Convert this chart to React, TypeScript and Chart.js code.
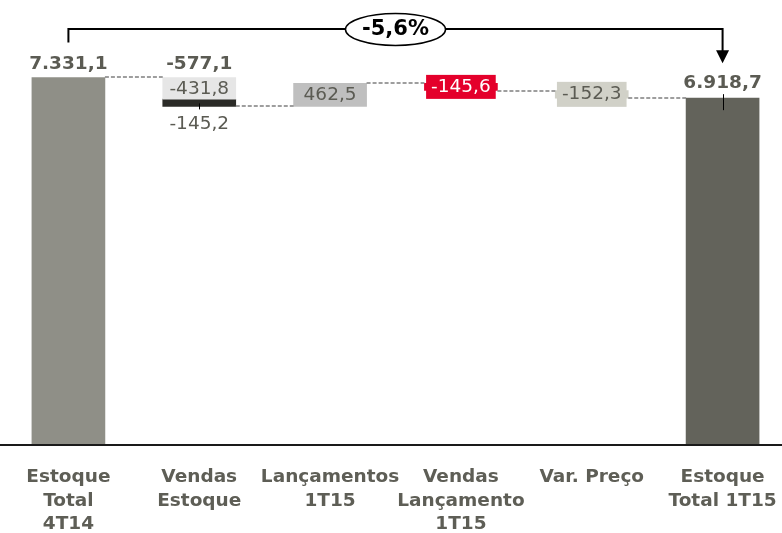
import React, { useEffect, useRef } from "react";
import { Chart, registerables } from "chart.js";

Chart.register(...registerables);

const categories: string[][] = [
  ["Estoque", "Total", "4T14"],
  ["Vendas", "Estoque"],
  ["Lançamentos", "1T15"],
  ["Vendas", "Lançamento", "1T15"],
  ["Var. Preço"],
  ["Estoque", "Total 1T15"],
];
const startValue = 7331.1;
const endValue = 6918.7;
const deltas = [-431.8, -145.2, 462.5, -145.6, -152.3];
const deltaLabels = ["-431,8", "-145,2", "462,5", "-145,6", "-152,3"];
const totalLabels = ["7.331,1", "-577,1", "6.918,7"];
const changeLabel = "-5,6%";

const barColors = ["#8f8f87", "#e6e6e6", "#bfbfbf", "#e4002b", "#d1d1c8", "#63635b"];
const darkColor = "#2b2b27";
const textGrey = "#5b5b53";
const FONT = "'DejaVu Sans', Verdana, sans-serif";

// cumulative levels
const levels: number[] = [startValue];
deltas.forEach((d) => levels.push(+(levels[levels.length - 1] + d).toFixed(1)));

const mainData: ([number, number] | null)[] = [
  [0, levels[0]],
  [levels[1], levels[0]],
  [levels[2], levels[3]],
  [levels[4], levels[3]],
  [levels[5], levels[4]],
  [0, endValue],
];
const darkData: ([number, number] | null)[] = [null, [levels[2], levels[1]], null, null, null, null];
const connectLevels = [levels[0], levels[2], levels[3], levels[4], levels[5]];

const annotPlugin = {
  id: "annot",
  afterDatasetsDraw(chart: any) {
    const ctx: CanvasRenderingContext2D = chart.ctx;
    const y = chart.scales.y;
    const area = chart.chartArea;
    const bars = chart.getDatasetMeta(0).data as any[];
    const dark = chart.getDatasetMeta(1).data as any[];
    const geo = bars.map((b) => {
      const p = b.getProps(["x", "y", "base", "width"], true);
      return {
        x: p.x,
        w: p.width,
        top: Math.min(p.y, p.base),
        bottom: Math.max(p.y, p.base),
      };
    });
    const dg = dark[1].getProps(["x", "y", "base", "width"], true);
    const darkBottom = Math.max(dg.y, dg.base);

    ctx.save();
    ctx.strokeStyle = "#1a1a1a";
    ctx.lineWidth = 2;
    ctx.beginPath();
    ctx.moveTo(0, area.bottom);
    ctx.lineTo(chart.width, area.bottom);
    ctx.stroke();

    ctx.strokeStyle = "#7f7f7f";
    ctx.lineWidth = 1.4;
    ctx.setLineDash([4, 2]);
    for (let i = 0; i < 5; i++) {
      const yy = Math.round(y.getPixelForValue(connectLevels[i]));
      ctx.beginPath();
      ctx.moveTo(geo[i].x + geo[i].w / 2, yy);
      ctx.lineTo(geo[i + 1].x - geo[i + 1].w / 2, yy);
      ctx.stroke();
    }
    ctx.setLineDash([]);

    ctx.strokeStyle = "#000";
    ctx.lineWidth = 1;
    ctx.beginPath();
    ctx.moveTo(Math.round(geo[1].x) + 0.5, darkBottom - 3);
    ctx.lineTo(Math.round(geo[1].x) + 0.5, darkBottom + 3);
    ctx.moveTo(Math.round(geo[5].x) + 0.5, geo[5].top - 4);
    ctx.lineTo(Math.round(geo[5].x) + 0.5, geo[5].top + 12);
    ctx.stroke();

    ctx.textAlign = "center";
    ctx.textBaseline = "middle";

    ctx.fillStyle = textGrey;
    ctx.font = `bold 18.5px ${FONT}`;
    ctx.fillText(totalLabels[0], geo[0].x, geo[0].top - 13.5);
    ctx.fillText(totalLabels[1], geo[1].x, geo[1].top - 13.5);
    ctx.fillText(totalLabels[2], geo[5].x, geo[5].top - 14.5);

    ctx.font = `18.5px ${FONT}`;
    const lightBottom = y.getPixelForValue(levels[1]);
    ctx.fillStyle = textGrey;
    ctx.fillText(deltaLabels[0], geo[1].x, (geo[1].top + lightBottom) / 2 + 0.5);
    ctx.fillText(deltaLabels[1], geo[1].x, darkBottom + 17.5);
    ctx.fillText(deltaLabels[2], geo[2].x, (geo[2].top + geo[2].bottom) / 2);

    const boxLabel = (i: number, text: string, bg: string, fg: string, h: number) => {
      const cy = (geo[i].top + geo[i].bottom) / 2;
      const tw = ctx.measureText(text).width;
      const bw = tw + 10;
      ctx.fillStyle = bg;
      ctx.fillRect(geo[i].x - bw / 2, cy - h / 2, bw, h);
      ctx.fillStyle = fg;
      ctx.fillText(text, geo[i].x, cy);
    };
    boxLabel(3, deltaLabels[3], barColors[3], "#ffffff", 24);
    boxLabel(4, deltaLabels[4], barColors[4], textGrey, 25);

    const lineY = 29;
    const x0 = geo[0].x;
    const x1 = geo[5].x;
    ctx.strokeStyle = "#000";
    ctx.lineWidth = 2;
    ctx.beginPath();
    ctx.moveTo(x0, geo[0].top - 35);
    ctx.lineTo(x0, lineY);
    ctx.lineTo(x1, lineY);
    ctx.lineTo(x1, geo[5].top - 47);
    ctx.stroke();
    ctx.fillStyle = "#000";
    ctx.beginPath();
    ctx.moveTo(x1 - 6.5, geo[5].top - 48);
    ctx.lineTo(x1 + 6.5, geo[5].top - 48);
    ctx.lineTo(x1, geo[5].top - 35);
    ctx.closePath();
    ctx.fill();

    const cx = (x0 + x1) / 2;
    ctx.beginPath();
    ctx.ellipse(cx, lineY + 0.5, 50, 16, 0, 0, Math.PI * 2);
    ctx.fillStyle = "#fff";
    ctx.fill();
    ctx.lineWidth = 1.5;
    ctx.stroke();
    ctx.fillStyle = "#000";
    ctx.font = `bold 21px ${FONT}`;
    ctx.fillText(changeLabel, cx, lineY + 1);
    ctx.restore();
  },
};

export default function App() {
  const ref = useRef<HTMLCanvasElement | null>(null);
  useEffect(() => {
    document.body.style.margin = "0";
    const chart = new Chart(ref.current as HTMLCanvasElement, {
      type: "bar",
      data: {
        labels: categories as any,
        datasets: [
          {
            data: mainData as any,
            backgroundColor: barColors,
            barThickness: 73,
            grouped: false,
            borderWidth: 0,
          } as any,
          {
            data: darkData as any,
            backgroundColor: darkColor,
            barThickness: 73,
            grouped: false,
            borderWidth: 0,
          } as any,
        ],
      },
      options: {
        responsive: false,
        animation: false,
        layout: { padding: { left: 3, right: 0, top: 0, bottom: 0 } },
        plugins: { legend: { display: false }, tooltip: { enabled: false } },
        scales: {
          x: {
            grid: { display: false, drawTicks: false },
            border: { display: false },
            ticks: {
              color: "#5e5e56",
              font: { family: FONT, weight: "bold", size: 18.5, lineHeight: 23.3 / 18.5 },
              padding: 21,
              maxRotation: 0,
              autoSkip: false,
            },
            afterFit: (scale: any) => {
              scale.height = 88;
              scale.paddingLeft = 0;
              scale.paddingRight = 0;
            },
          },
          y: {
            display: false,
            min: 0,
            max: 8877,
          },
        },
      },
      plugins: [annotPlugin],
    });
    return () => chart.destroy();
  }, []);
  return (
    <div style={{ position: "fixed", left: 0, top: 0, width: 782, height: 533, overflow: "hidden", background: "#fff" }}>
      <canvas ref={ref} width={788} height={533} style={{ display: "block", width: 788, height: 533 }} />
    </div>
  );
}
